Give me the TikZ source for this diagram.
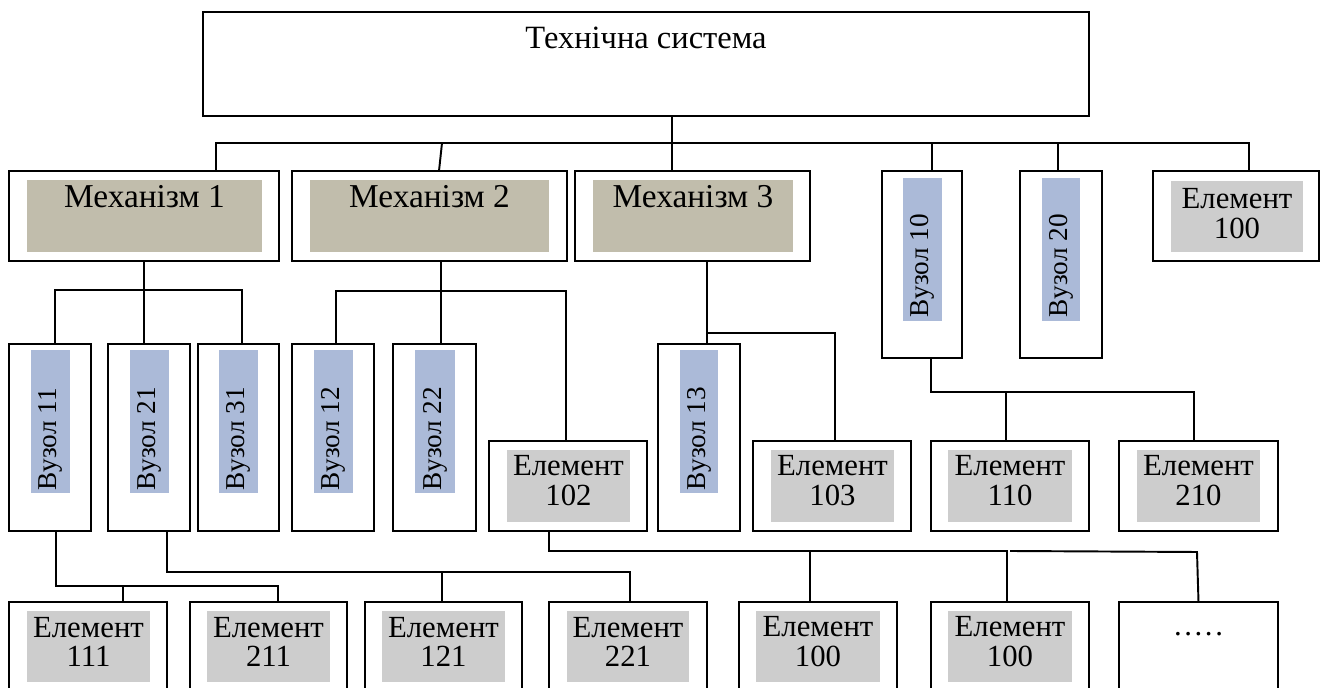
\documentclass[tikz,border=0pt]{standalone}
\usepackage{fontspec}
\setmainfont{Liberation Serif}
\usetikzlibrary{calc,fit,positioning}

\definecolor{mechgray}{RGB}{193,189,172}
\definecolor{vuzblue}{RGB}{171,186,216}
\definecolor{elgray}{RGB}{205,205,205}

\tikzset{
  box/.style={draw, line width=1.1pt, inner sep=0pt, outer sep=0pt},
  lbl/.style={font=\fontsize{17.5}{17}\selectfont, inner sep=0pt, align=center},
  biglbl/.style={lbl, font=\fontsize{19}{20}\selectfont},
  vlbl/.style={lbl, font=\fontsize{15.5}{17}\selectfont, rotate=90, anchor=west},
}

\begin{document}
\begin{tikzpicture}[x=0.02cm, y=-0.02cm, line width=1.1pt]
  \useasboundingbox (0,0) rectangle (1323,688);
  \clip (0,0) rectangle (1323,688);

  \node[box, fit={(203,12) (1089,116)}] (top) {};
  \node[lbl, font=\fontsize{18.5}{20}\selectfont] (toptxt) at (646,38) {Технічна система};

  % first level
  \node[box, fit={(9,171) (279,261)}] (m1) {};
  \node[box, fit={(292,171) (567,261)}] (m2) {};
  \node[box, fit={(575,171) (810,261)}] (m3) {};
  \node[box, fit={(882,171) (962,358)}] (v10) {};
  \node[box, fit={(1020,171) (1102,358)}] (v20) {};
  \node[box, fit={(1153,171) (1319,261)}] (e100t) {};

  % second level
  \node[box, fit={(9,344) (91,531)}] (v11) {};
  \node[box, fit={(108,344) (190,531)}] (v21) {};
  \node[box, fit={(198,344) (279,531)}] (v31) {};
  \node[box, fit={(292,344) (374,531)}] (v12) {};
  \node[box, fit={(393,344) (476,531)}] (v22) {};
  \node[box, fit={(489,441) (647,531)}] (e102) {};
  \node[box, fit={(658,344) (740,531)}] (v13) {};
  \node[box, fit={(753,441) (911,531)}] (e103) {};
  \node[box, fit={(931,441) (1089,531)}] (e110) {};
  \node[box, fit={(1119,441) (1278,531)}] (e210) {};

  % third level
  \node[box, fit={(9,602) (167,700)}] (e111) {};
  \node[box, fit={(190,602) (347,700)}] (e211) {};
  \node[box, fit={(365,602) (522,700)}] (e121) {};
  \node[box, fit={(549,602) (707,700)}] (e221) {};
  \node[box, fit={(739,602) (897,700)}] (e100a) {};
  \node[box, fit={(931,602) (1089,700)}] (e100b) {};
  \node[box, fit={(1119,602) (1278,700)}] (dots) {};

  % fills
  \foreach \a/\b in {27/262, 310/549, 593/793}
    \fill[mechgray] (\a,180) rectangle (\b,252);
  \foreach \a/\b in {31/70, 130/169, 219/258, 314/353, 415/455, 680/718}
    \fill[vuzblue] (\a,350) rectangle (\b,493);
  \foreach \a/\b in {903/942, 1042/1080}
    \fill[vuzblue] (\a,178) rectangle (\b,321);
  \fill[elgray] (1171,181) rectangle (1303,252);
  \foreach \a/\b in {507/630, 771/894, 948/1072, 1137/1260}
    \fill[elgray] (\a,450) rectangle (\b,522);
  \foreach \a/\b in {27/150, 207/330, 382/505, 567/689, 756/880, 948/1072}
    \fill[elgray] (\a,611) rectangle (\b,682);

  % labels
  \node[biglbl] (m1txt) at (144.5,197) {Механізм 1};
  \node[biglbl] (m2txt) at (429.5,197) {Механізм 2};
  \node[biglbl] (m3txt) at (693,197) {Механізм 3};
  \node[vlbl] (v10txt) at (922.5,318) {Вузол 10};
  \node[vlbl] (v20txt) at (1061,318) {Вузол 20};
  \node[lbl] (e100ttxt) at (1237,214) {Елемент\\100};
  \node[vlbl] (v11txt) at (50.5,491) {Вузол 11};
  \node[vlbl] (v21txt) at (149.5,491) {Вузол 21};
  \node[vlbl] (v31txt) at (238.5,491) {Вузол 31};
  \node[vlbl] (v12txt) at (333.5,491) {Вузол 12};
  \node[vlbl] (v22txt) at (435,491) {Вузол 22};
  \node[vlbl] (v13txt) at (699,491) {Вузол 13};
  \node[lbl] (e102txt) at (568.5,481) {Елемент\\102};
  \node[lbl] (e103txt) at (832.5,481) {Елемент\\103};
  \node[lbl] (e110txt) at (1010,481) {Елемент\\110};
  \node[lbl] (e210txt) at (1198.5,481) {Елемент\\210};
  \node[lbl] (e111txt) at (88.5,642) {Елемент\\111};
  \node[lbl] (e211txt) at (268.5,642) {Елемент\\211};
  \node[lbl] (e121txt) at (443.5,642) {Елемент\\121};
  \node[lbl] (e221txt) at (628,642) {Елемент\\221};
  \node[lbl] (e100atxt) at (818,642) {Елемент\\100};
  \node[lbl] (e100btxt) at (1010,642) {Елемент\\100};
  \node[lbl] (dotstxt) at (1198.5,634) {.\kern1.5pt.\kern1.5pt.\kern1.5pt.\kern1.5pt.};

  % connectors
  \draw ($(top.south)+(26,0)$) -- ($(m3.north)+(-20.5,0)$);
  \draw ($(m1.north)+(72,0)$) |- ($(e100t.north)+(13,-28)$) -- ($(e100t.north)+(13,0)$);
  \draw ($(m2.north)+(12.5,-28)$) -- ($(m2.north)+(9.5,0)$);
  \draw ($(v10.north)+(10,-28)$) -- ($(v10.north)+(10,0)$);
  \draw ($(v20.north)+(-3,-28)$) -- ($(v20.north)+(-3,0)$);

  \draw (m1.south) -- ($(v21.north)+(-5,0)$);
  \draw ($(v11.north)+(5,0)$) |- ($(v31.north)+(3.5,-54)$) -- ($(v31.north)+(3.5,0)$);
  \draw ($(m2.south)+(11.5,0)$) -- ($(v22.north)+(6.5,0)$);
  \draw ($(v12.north)+(3,0)$) |- ($(e102.north)+(-2,-150)$) -- ($(e102.north)+(-2,0)$);
  \draw ($(m3.south)+(14.5,0)$) -- ($(v13.north)+(8,0)$);
  \draw ($(v13.north)+(8,-11)$) -| ($(e103.north)+(3,0)$);
  \draw ($(v10.south)+(9,0)$) |- ($(e210.north)+(-4.5,-49)$) -- ($(e210.north)+(-4.5,0)$);
  \draw ($(e110.north)+(-4,-49)$) -- ($(e110.north)+(-4,0)$);

  \draw ($(v11.south)+(6,0)$) |- ($(e211.north)+(9.5,-16)$) -- ($(e211.north)+(9.5,0)$);
  \draw ($(e111.north)+(35,-16)$) -- ($(e111.north)+(35,0)$);
  \draw ($(v21.south)+(18,0)$) |- ($(e221.north)+(2,-30)$) -- ($(e221.north)+(2,0)$);
  \draw ($(e121.north)+(-1.5,-30)$) -- ($(e121.north)+(-1.5,0)$);
  \draw ($(e102.south)+(-19,0)$) |- ($(e100b.north)+(-3,-51)$) -- ($(e100b.north)+(-3,0)$);
  \draw ($(e100a.north)+(-8,-51)$) -- ($(e100a.north)+(-8,0)$);
  \draw ($(e100b.north)+(0,-51)$) -- ($(dots.north)+(-1.5,-50)$) -- ($(dots.north)+(0,0)$);
\end{tikzpicture}
\end{document}
